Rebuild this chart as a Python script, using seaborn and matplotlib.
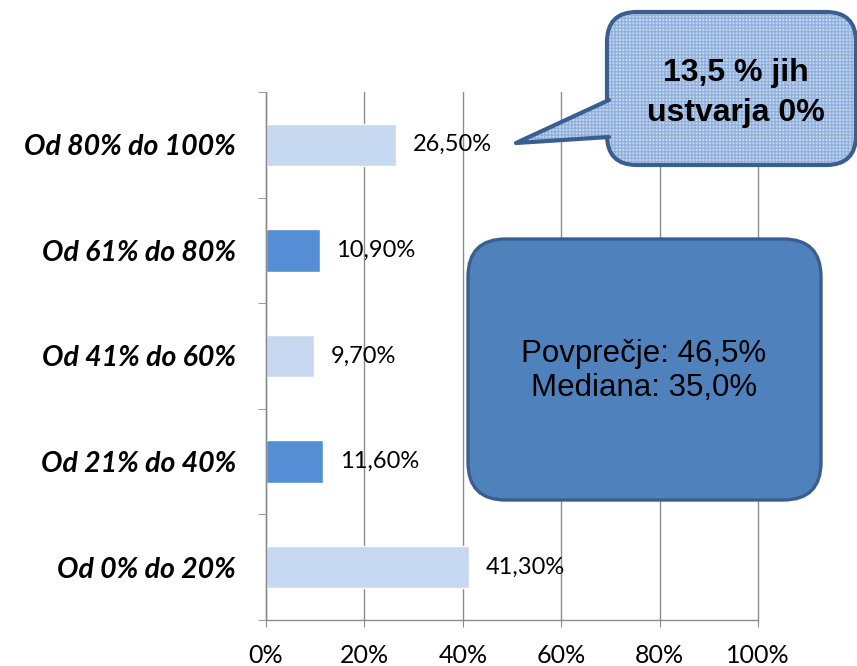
import matplotlib
matplotlib.use("Agg")
import matplotlib.pyplot as plt
import seaborn as sns
from matplotlib.patches import FancyBboxPatch, Polygon
from matplotlib.lines import Line2D
from matplotlib.ticker import FuncFormatter

# data
categories = ["Od 80% do 100%", "Od 61% do 80%", "Od 41% do 60%", "Od 21% do 40%", "Od 0% do 20%"]
values = [26.5, 10.9, 9.7, 11.6, 41.3]
bar_colors = ["#C6D9F1", "#558ED5", "#C6D9F1", "#558ED5", "#C6D9F1"]
x_ticks = [0, 20, 40, 60, 80, 100]
callout_text = "13,5 % jih\nustvarja 0%"
box_text = "Povprečje: 46,5%\nMediana: 35,0%"

sns.set_style("white")
plt.rcParams['font.family'] = ['Lato', 'DejaVu Sans']
plt.rcParams['text.color'] = 'black'
plt.rcParams['xtick.color'] = 'black'
plt.rcParams['ytick.color'] = 'black'

W, H = 857, 666
fig = plt.figure(figsize=(W / 100, H / 100), dpi=100)
ax = fig.add_axes([266 / W, 1 - 620 / H, (758 - 266) / W, (620 - 92) / H])

sns.barplot(x=values, y=categories, hue=categories, palette=bar_colors,
            legend=False, width=0.4, orient="h", ax=ax, saturation=1)

ax.set_xlim(0, 100)
ax.set_ylim(4.5, -0.5)
ax.set_xticks(x_ticks)
ax.xaxis.set_major_formatter(FuncFormatter(lambda v, p: f"{v:.0f}%"))
ax.grid(axis="x", color="#8C8C8C", lw=1)
for gl in ax.get_xgridlines():
    gl.set_clip_on(False)
ax.set_axisbelow(True)
for s in ["top", "right"]:
    ax.spines[s].set_visible(False)
for s in ["left", "bottom"]:
    ax.spines[s].set_color("#8C8C8C")
    ax.spines[s].set_linewidth(1)

ax.tick_params(axis="x", bottom=True, length=5, color="#8C8C8C", labelsize=18,
               labelcolor="black", pad=12)
ax.tick_params(axis="y", left=False, length=0, pad=21.5, labelcolor="black")
ax.set_yticks(range(len(categories)))
ax.set_yticklabels(categories, fontsize=20.5, fontweight="bold", fontstyle="italic")
ax.set_yticks([i - 0.5 for i in range(len(categories) + 1)], minor=True)
ax.tick_params(axis="y", which="minor", left=True, length=6, color="#8C8C8C")
ax.set_xlabel("")
ax.set_ylabel("")

for i, v in enumerate(values):
    ax.annotate(f"{v:.2f}%".replace(".", ","), (v, i), xytext=(12, 0),
                textcoords="offset points", va="center", ha="left", fontsize=17)


def fx(x):
    return x / W


def fy(y):
    return 1 - y / H


# big summary box
box = FancyBboxPatch((fx(468), fy(500)), fx(821) - fx(468), fy(239) - fy(500),
                     boxstyle="round,pad=0,rounding_size=0.044",
                     transform=fig.transFigure, facecolor="#4F81BD",
                     edgecolor="#3A5F8E", lw=2.4, mutation_aspect=W / H)
fig.add_artist(box)
fig.text(fx(644), fy(371), box_text, ha="center", va="center", fontsize=22.5,
         family=["Liberation Sans", "DejaVu Sans"], linespacing=1.15, color="black")

# speech bubble callout
edge = "#3A5F8E"
hatch_col = "#92B0DC"
bubble = FancyBboxPatch((fx(607), fy(165)), fx(856) - fx(607), fy(12) - fy(165),
                        boxstyle="round,pad=0,rounding_size=0.035",
                        transform=fig.transFigure, facecolor="#C6D9F1",
                        edgecolor=edge, lw=3, mutation_aspect=W / H)
fig.add_artist(bubble)
hatch = FancyBboxPatch((fx(609), fy(163)), fx(854) - fx(609), fy(14) - fy(163),
                       boxstyle="round,pad=0,rounding_size=0.033",
                       transform=fig.transFigure, fill=False,
                       edgecolor=hatch_col, lw=0, hatch="+++++", mutation_aspect=W / H)
fig.add_artist(hatch)
tip = (fx(516), fy(143))
up = (fx(609), fy(100))
lo = (fx(609), fy(137))
fig.add_artist(Polygon([tip, up, lo], closed=True, transform=fig.transFigure,
                       facecolor="#C6D9F1", edgecolor="none"))
fig.add_artist(Polygon([tip, up, lo], closed=True, transform=fig.transFigure,
                       fill=False, edgecolor=hatch_col, lw=0, hatch="+++++"))
fig.add_artist(Line2D([up[0], tip[0], lo[0]], [up[1], tip[1], lo[1]],
                      transform=fig.transFigure, color=edge, lw=3,
                      solid_joinstyle="round", solid_capstyle="round"))
fig.text(fx(736), fy(93), callout_text, ha="center", va="center", fontsize=23,
         fontweight="bold", family=["Liberation Sans Narrow", "Liberation Sans", "DejaVu Sans"],
         linespacing=1.4, color="black")

fig.savefig("out.png", dpi=100)
